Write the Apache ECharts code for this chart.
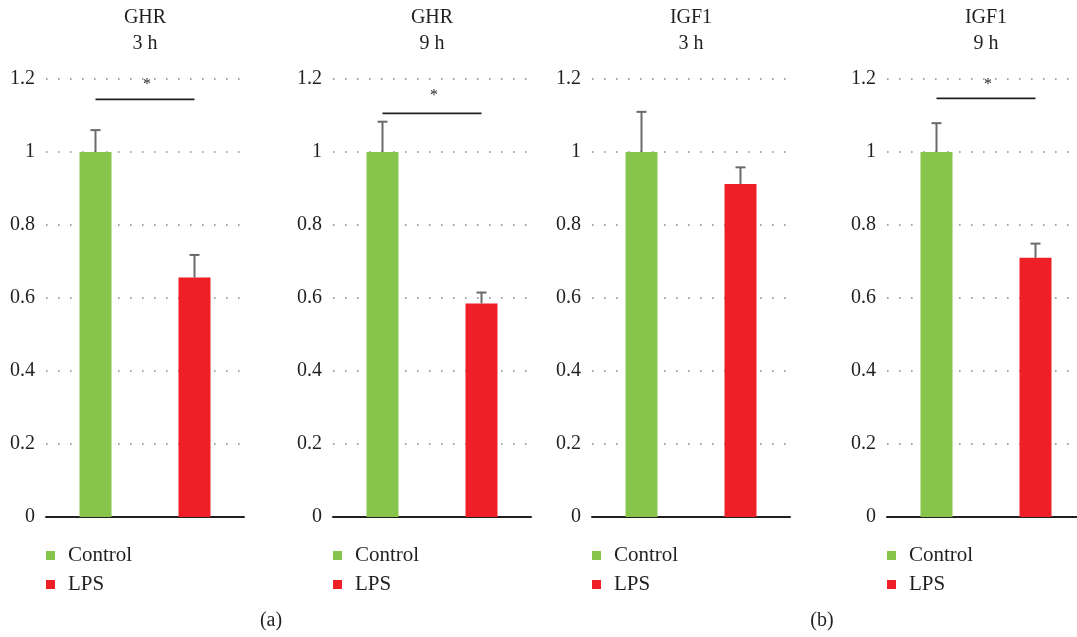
<!DOCTYPE html>
<html>
<head>
<meta charset="utf-8">
<script src="https://cdn.jsdelivr.net/npm/echarts@6/dist/echarts.min.js"></script>
<style>
html,body{margin:0;padding:0;background:#fff;}
#chart{width:1077px;height:637px;}
</style>
</head>
<body>
<div id="chart"></div>
<script>
// ---- data ----
const categories = ['Control', 'LPS'];
const panelGenes = ['GHR', 'GHR', 'IGF1', 'IGF1'];
const panelTimes = ['3 h', '9 h', '3 h', '9 h'];
const controlValues = [1, 1, 1, 1];
const lpsValues = [0.656, 0.585, 0.912, 0.710];
const controlErrors = [0.060, 0.083, 0.110, 0.079];
const lpsErrors = [0.062, 0.030, 0.046, 0.039];
const sigLineLevels = [1.144, 1.106, null, 1.147];
const sigStarLevels = [1.195, 1.165, null, 1.196];
const yMax = 1.2;
const yInterval = 0.2;
const captions = ['(a)', '(b)'];

// ---- layout ----
const gridLefts = [46, 333, 592, 887];
const gridWidth = 198;
const gridTop = 79;
const gridHeight = 438;
const font = '"Liberation Serif", "DejaVu Serif", serif';
const textColor = '#231f20';
const green = '#86c44b';
const red = '#ee1f26';

const grids = [], xAxes = [], yAxes = [], series = [], legends = [], graphics = [];

for (let i = 0; i < 4; i++) {
  grids.push({ left: gridLefts[i], top: gridTop, width: gridWidth, height: gridHeight, containLabel: false, outerBoundsMode: 'none' });
  xAxes.push({
    type: 'category', gridIndex: i, data: categories,
    axisLine: { show: true, lineStyle: { color: textColor, width: 2 } },
    axisTick: { show: false }, axisLabel: { show: false }, splitLine: { show: false }
  });
  yAxes.push({
    type: 'value', gridIndex: i, min: 0, max: yMax, interval: yInterval,
    axisLine: { show: false }, axisTick: { show: false },
    axisLabel: { color: textColor, fontFamily: font, fontSize: 20, margin: 11 },
    splitLine: { show: true, lineStyle: { color: '#8a8a8a', width: 1.6, type: [1.6, 10.4] } }
  });
  series.push({
    name: 'Control', type: 'bar', xAxisIndex: i, yAxisIndex: i,
    data: [controlValues[i], '-'], barWidth: 32, barGap: '-100%',
    itemStyle: { color: green }, z: 2
  });
  series.push({
    name: 'LPS', type: 'bar', xAxisIndex: i, yAxisIndex: i,
    data: ['-', lpsValues[i]], barWidth: 32, barGap: '-100%',
    itemStyle: { color: red }, z: 2
  });
  series.push({
    type: 'custom', xAxisIndex: i, yAxisIndex: i, z: 3,
    data: [[0, controlValues[i], controlValues[i] + controlErrors[i]],
           [1, lpsValues[i], lpsValues[i] + lpsErrors[i]]],
    encode: { x: 0, y: 2 },
    renderItem: function (params, api) {
      const base = api.coord([api.value(0), api.value(1)]);
      const top = api.coord([api.value(0), api.value(2)]);
      const st = { stroke: '#6a6a6a', lineWidth: 2 };
      return {
        type: 'group',
        children: [
          { type: 'line', shape: { x1: base[0], y1: base[1], x2: top[0], y2: top[1] }, style: st },
          { type: 'line', shape: { x1: top[0] - 5, y1: top[1], x2: top[0] + 5, y2: top[1] }, style: st }
        ]
      };
    }
  });
  if (sigLineLevels[i] != null) {
    series.push({
      type: 'custom', xAxisIndex: i, yAxisIndex: i, z: 3,
      data: [[0, sigLineLevels[i], sigStarLevels[i]]],
      encode: { x: 0, y: 1 },
      renderItem: function (params, api) {
        const p0 = api.coord([0, api.value(1)]);
        const p1 = api.coord([1, api.value(1)]);
        const s = api.coord([0, api.value(2)]);
        const mx = (p0[0] + p1[0]) / 2 + 2;
        return {
          type: 'group',
          children: [
            { type: 'line', shape: { x1: p0[0], y1: p0[1], x2: p1[0], y2: p1[1] }, style: { stroke: textColor, lineWidth: 1.8 } },
            { type: 'text', style: { text: '*', x: mx, y: s[1] + 4, align: 'center', verticalAlign: 'middle', fontFamily: font, fontSize: 16, fill: textColor } }
          ]
        };
      }
    });
  }
  legends.push({
    data: categories, orient: 'vertical', left: gridLefts[i], top: 545,
    padding: 0, itemGap: 8, icon: 'rect', itemWidth: 9, itemHeight: 9,
    selectedMode: false,
    textStyle: { color: textColor, fontFamily: font, fontSize: 21, lineHeight: 20, padding: [0, 0, 0, 8] }
  });
  graphics.push({
    type: 'text',
    style: {
      text: panelGenes[i] + '\n' + panelTimes[i],
      x: gridLefts[i] + gridWidth / 2, y: 5,
      align: 'center', verticalAlign: 'top',
      fontFamily: font, fontSize: 20, lineHeight: 26, fill: textColor
    }
  });
}
graphics.push({ type: 'text', style: { text: captions[0], x: 271, y: 621, align: 'center', verticalAlign: 'middle', fontFamily: font, fontSize: 20, fill: textColor } });
graphics.push({ type: 'text', style: { text: captions[1], x: 822, y: 621, align: 'center', verticalAlign: 'middle', fontFamily: font, fontSize: 20, fill: textColor } });

const chart = echarts.init(document.getElementById('chart'), null, { renderer: 'canvas' });
chart.setOption({
  animation: false,
  backgroundColor: '#fff',
  grid: grids, xAxis: xAxes, yAxis: yAxes, series: series,
  legend: legends, graphic: graphics
});
</script>
</body>
</html>
